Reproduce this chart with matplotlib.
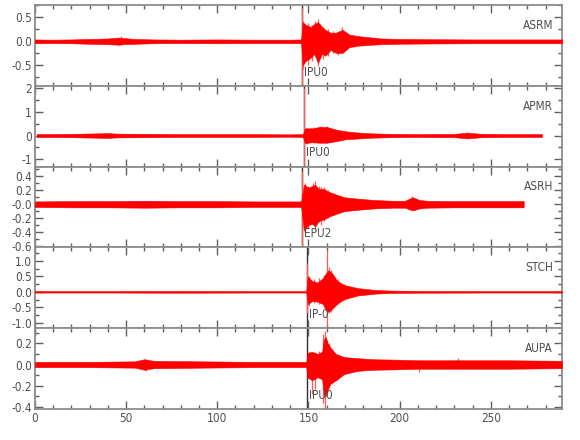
import numpy as np
import matplotlib
matplotlib.use("Agg")
import matplotlib.pyplot as plt
from matplotlib.ticker import MultipleLocator

plt.rcParams['font.family'] = ['DejaVu Sans']
plt.rcParams['font.stretch'] = 'condensed'
plt.rcParams['axes.unicode_minus'] = False

# station names and picks
stations = ['ASRM', 'APMR', 'ASRH', 'STCH', 'AUPA']
pick_names = ['IPU0', 'IPU0', 'EPU2', 'IP-0', 'IPU0']
pick_times = [146.6, 147.4, 146.6, 149.0, 149.0]

# envelope of each trace (time, upper, lower)
asrm_t = [0, 10, 20, 30, 40, 46, 48, 55, 65, 80, 100, 120, 140, 146,
          146.8, 148.7, 151.3, 153.2, 155.2, 157.5, 159.3, 162.1, 165, 168.7,
          172.4, 177, 184.6, 190, 200, 215, 240, 270, 289]
asrm_hi = [.04, .035, .04, .05, .06, .08, .07, .05, .04, .035, .04, .035, .035, .04,
           .40, .34, .30, .36, .40, .30, .24, .18, .18, .24,
           .14, .11, .08, .06, .05, .045, .04, .04, .04]
asrm_lo = [-.04, -.035, -.04, -.05, -.06, -.07, -.06, -.05, -.04, -.035, -.04, -.035, -.035, -.04,
           -.50, -.40, -.34, -.26, -.45, -.25, -.30, -.18, -.24, -.24,
           -.12, -.09, -.07, -.06, -.05, -.045, -.04, -.04, -.04]

apmr_t = [1, 20, 40, 45, 60, 80, 100, 120, 140, 147, 148, 152, 156, 160, 165, 170, 178, 185, 195, 210, 230, 237, 245, 260, 278]
apmr_hi = [.06, .07, .10, .08, .07, .06, .06, .06, .05, .06, .30, .30, .36, .36, .25, .18, .12, .09, .07, .06, .07, .12, .07, .06, .06]
apmr_lo = [-.06, -.07, -.10, -.08, -.07, -.06, -.06, -.06, -.05, -.06, -.32, -.28, -.30, -.30, -.24, -.16, -.12, -.09, -.07, -.06, -.07, -.12, -.07, -.06, -.06]

asrh_t = [0, 20, 40, 60, 80, 100, 120, 140, 146,
          147.5, 150, 152, 153.7, 155.6, 158.4, 161, 164, 169.6, 177, 186.4,
          196, 203, 207, 211, 215, 230, 250, 268]
asrh_hi = [.04, .045, .045, .05, .045, .045, .04, .04, .04,
           .28, .24, .26, .28, .22, .22, .18, .15, .10, .08, .06,
           .05, .05, .10, .06, .05, .045, .045, .045]
asrh_lo = [-.04, -.045, -.045, -.05, -.045, -.045, -.04, -.04, -.04,
           -.38, -.30, -.28, -.32, -.24, -.22, -.18, -.15, -.10, -.08, -.06,
           -.05, -.05, -.09, -.06, -.05, -.045, -.045, -.045]

stch_t = [0, 40, 80, 120, 148.8,
          149.6, 152, 155, 158, 159.6, 161, 163, 165.9, 169.6, 177, 186.4, 195, 210, 250, 289]
stch_hi = [.025, .025, .03, .025, .025,
           .50, .35, .30, .45, .60, .70, .60, .35, .22, .12, .06, .04, .03, .025, .025]
stch_lo = [-.025, -.025, -.03, -.025, -.025,
           -.40, -.30, -.32, -.40, -.60, -.65, -.55, -.38, -.24, -.12, -.06, -.04, -.03, -.025, -.025]

aupa_t = [0, 30, 55, 60, 65, 90, 120, 148.8,
          149.5, 152, 155, 157.5, 158.5, 159.5, 160.5, 162.1, 165, 169.6, 177, 185, 200, 210, 230, 260, 289]
aupa_hi = [.025, .025, .03, .05, .035, .03, .025, .025,
           .11, .12, .10, .12, .24, .26, .20, .16, .10, .07, .06, .05, .045, .04, .04, .04, .035]
aupa_lo = [-.025, -.025, -.03, -.05, -.035, -.03, -.025, -.025,
           -.12, -.15, -.12, -.14, -.28, -.30, -.24, -.18, -.15, -.09, -.06, -.05, -.045, -.04, -.04, -.04, -.035]

# single large swings (time, max, min)
asrm_spk_t = [47, 146.6, 147.2, 149.5, 152, 153.5, 155.2, 156.5, 158.2, 160.5, 163.5, 166, 168.5, 171, 175, 180]
asrm_spk_hi = [.12, .70, .43, .38, .34, .42, .46, .36, .30, .26, .22, .20, .29, .18, .14, .10]
asrm_spk_lo = [-.08, -.88, -.58, -.50, -.40, -.30, -.51, -.35, -.36, -.30, -.25, -.28, -.22, -.16, -.12, -.09]

apmr_spk_t = [42, 147.4, 149, 151, 153, 155, 157, 160.3, 162.5, 165, 168, 237]
apmr_spk_hi = [.12, 2.0, .32, .30, .35, .33, .38, .40, .30, .24, .20, .14]
apmr_spk_lo = [-.10, -1.25, -.35, -.28, -.30, -.32, -.30, -.33, -.26, -.22, -.18, -.12]

asrh_spk_t = [146.6, 148.1, 150, 152.5, 153.7, 155.6, 157, 158.4, 160.5, 164, 207]
asrh_spk_hi = [.48, .31, .26, .30, .33, .26, .24, .24, .20, .16, .12]
asrh_spk_lo = [-.62, -.44, -.34, -.28, -.36, -.26, -.30, -.24, -.20, -.16, -.09]

stch_spk_t = [149.2, 150.5, 153, 156, 158.5, 160.3, 161.2, 162.5, 164, 166, 169.6]
stch_spk_hi = [.95, .50, .40, .45, .55, 1.36, .80, .72, .50, .40, .25]
stch_spk_lo = [-.70, -.45, -.35, -.40, -.50, -1.10, -.70, -.67, -.50, -.40, -.25]

aupa_spk_t = [61, 150.3, 151.9, 153.7, 156, 158, 159, 160.3, 161.5, 163, 210.7, 232]
aupa_spk_hi = [.05, .12, .10, .12, .13, .29, .32, .23, .20, .14, .04, .06]
aupa_spk_lo = [-.06, -.14, -.28, -.23, -.12, -.36, -.41, -.28, -.20, -.18, -.07, -.04]

# axis ranges and tick labels
ylims = [(-0.925, 0.756), (-1.3, 2.08), (-0.62, 0.54), (-1.18, 1.44), (-0.42, 0.343)]
yticks = [[-0.5, 0.0, 0.5], [-1, 0, 1, 2], [-0.6, -0.4, -0.2, 0.0, 0.2, 0.4],
          [-1.0, -0.5, 0.0, 0.5, 1.0], [-0.4, -0.2, 0.0, 0.2]]
ylabels = [['-0.5', '0.0', '0.5'], ['-1', '0', '1', '2'],
           ['-0.6', '-0.4', '-0.2', '-0.0', '0.2', '0.4'],
           ['-1.0', '-0.5', '0.0', '0.5', '1.0'], ['-0.4', '-0.2', '0.0', '0.2']]
yminor = [0.25, 0.5, 0.1, 0.25, 0.1]

env = [(asrm_t, asrm_hi, asrm_lo), (apmr_t, apmr_hi, apmr_lo), (asrh_t, asrh_hi, asrh_lo),
       (stch_t, stch_hi, stch_lo), (aupa_t, aupa_hi, aupa_lo)]
spk = [(asrm_spk_t, asrm_spk_hi, asrm_spk_lo), (apmr_spk_t, apmr_spk_hi, apmr_spk_lo),
       (asrh_spk_t, asrh_spk_hi, asrh_spk_lo), (stch_spk_t, stch_spk_hi, stch_spk_lo),
       (aupa_spk_t, aupa_spk_hi, aupa_spk_lo)]

fig, axes = plt.subplots(5, 1, figsize=(5.8, 4.4), dpi=100, sharex=True)
fig.subplots_adjust(left=0.060, right=0.969, top=0.9886, bottom=0.0705, hspace=0)

spine_col = '#8c8c8c'
tick_col = '#606060'
text_col = '#505050'

for k, ax in enumerate(axes):
    t, hi, lo = env[k]
    st, sh, sl = spk[k]
    ax.axvline(pick_times[k], color='#303030', lw=1.0, zorder=1)
    ax.vlines(st, sl, sh, color='#ff5a5a', lw=0.9, zorder=2)
    ax.fill_between(t, lo, hi, color='red', lw=0.4, edgecolor='red', zorder=3)

    ax.set_xlim(0, 289)
    ax.set_ylim(*ylims[k])
    ax.set_yticks(yticks[k])
    ax.set_yticklabels(ylabels[k])
    ax.yaxis.set_minor_locator(MultipleLocator(yminor[k]))
    ax.xaxis.set_major_locator(MultipleLocator(50))
    ax.xaxis.set_minor_locator(MultipleLocator(10))
    ax.tick_params(which='both', direction='in', top=True, right=True,
                   colors=tick_col, labelcolor=text_col, labelsize=8.5, width=1, pad=2)
    ax.tick_params(which='major', length=6)
    ax.tick_params(which='minor', length=3)
    for s in ax.spines.values():
        s.set_color(spine_col)
        s.set_linewidth(1.3)

    ax.text(0.983, 0.75, stations[k], transform=ax.transAxes, ha='right', va='center',
            fontsize=8.5, color=text_col)
    ax.text(pick_times[k] + 1.2, ylims[k][0] + 0.17 * (ylims[k][1] - ylims[k][0]),
            pick_names[k], ha='left', va='center', fontsize=8.5, color=text_col, zorder=4)

plt.savefig('out.png', dpi=100)
